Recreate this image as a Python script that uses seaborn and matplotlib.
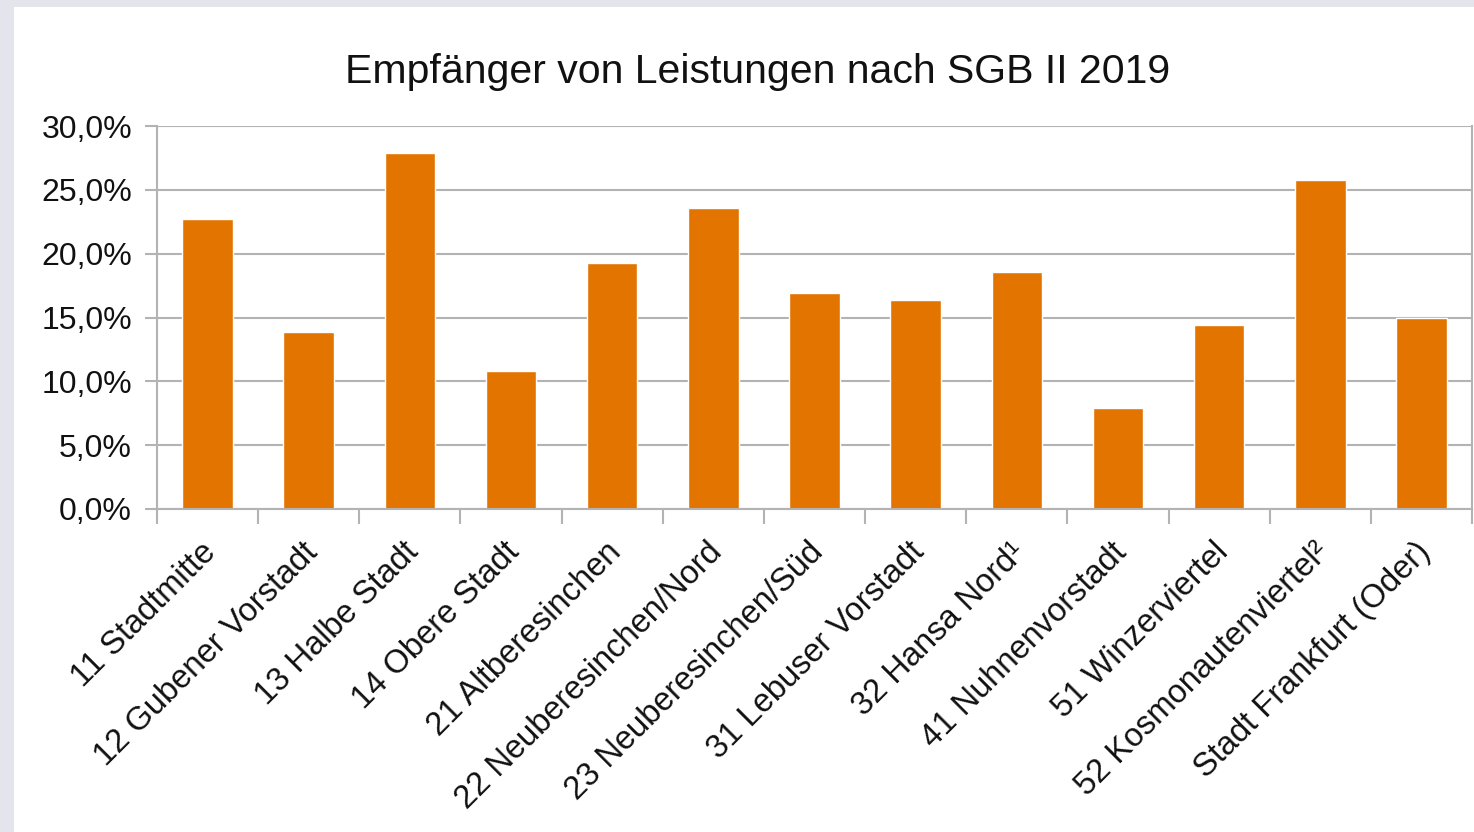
import matplotlib
matplotlib.use("Agg")
import matplotlib.pyplot as plt
import seaborn as sns
import numpy as np
import pandas as pd
from matplotlib.patches import Rectangle
from matplotlib.ticker import FuncFormatter, FixedLocator
from matplotlib.transforms import ScaledTranslation

# Chart data (percent of population receiving SGB II benefits)
DISTRICTS = [
    "11 Stadtmitte", "12 Gubener Vorstadt", "13 Halbe Stadt", "14 Obere Stadt",
    "21 Altberesinchen", "22 Neuberesinchen/Nord", "23 Neuberesinchen/Süd",
    "31 Lebuser Vorstadt", "32 Hansa Nord¹", "41 Nuhnenvorstadt",
    "51 Winzerviertel", "52 Kosmonautenviertel²", "Stadt Frankfurt (Oder)",
]
SHARE = [22.7, 13.9, 27.9, 10.8, 19.3, 23.6, 16.9, 16.4, 18.6, 7.9, 14.4, 25.8, 15.0]
Y_TICKS = [0, 5, 10, 15, 20, 25, 30]

df = pd.DataFrame({"district": DISTRICTS, "share": SHARE})

sns.set_style("white")
plt.rcParams["font.family"] = ["Liberation Sans", "DejaVu Sans"]

fig = plt.figure(figsize=(14.74, 8.32), dpi=100)
fig.patch.set_facecolor("white")
# gray frame strips on the left and top edges
fig.patches.append(Rectangle((0, 0), 14 / 1474, 1, transform=fig.transFigure,
                             facecolor="#e4e4ec", edgecolor="none"))
fig.patches.append(Rectangle((0, 1 - 7 / 832), 1, 7 / 832, transform=fig.transFigure,
                             facecolor="#e4e4ec", edgecolor="none"))

ax = fig.add_axes([157 / 1474, 1 - 509 / 832, 1315 / 1474, 383 / 832])
ax.set_facecolor("white")
sns.barplot(data=df, x="district", y="share", color="#e37400", width=0.5,
            saturation=1, ax=ax)

ax.set_xlim(-0.5, len(DISTRICTS) - 0.5)
ax.set_ylim(0, 30)
ax.set_yticks(Y_TICKS)
ax.yaxis.set_major_formatter(FuncFormatter(lambda v, _: f"{v:.1f}%".replace(".", ",")))
ax.yaxis.grid(True, color="#b3b3b3", linewidth=1.5)
ax.set_axisbelow(True)

ax.set_xticks(range(len(DISTRICTS)))
ax.set_xticklabels(DISTRICTS, rotation=45, ha="right", rotation_mode="anchor")
ax.xaxis.set_minor_locator(FixedLocator(np.arange(-0.5, len(DISTRICTS), 1)))
ax.tick_params(axis="x", which="major", length=0, pad=20, labelsize=23.5, labelcolor="#111111")
ax.tick_params(axis="x", which="minor", length=11, width=1.5, color="#b3b3b3",
               direction="out", bottom=True)
ax.tick_params(axis="y", length=9, width=1.5, color="#b3b3b3", labelsize=23,
               labelcolor="#111111", pad=9, left=True)

# nudge the rotated labels a little to the left
shift = ScaledTranslation(-7 / 100, 0, fig.dpi_scale_trans)
for lbl in ax.get_xticklabels():
    lbl.set_transform(lbl.get_transform() + shift)

for side in ["left", "bottom", "right"]:
    ax.spines[side].set_visible(True)
    ax.spines[side].set_color("#b3b3b3")
    ax.spines[side].set_linewidth(1.5)
ax.spines["top"].set_visible(False)

ax.set_xlabel("")
ax.set_ylabel("")
fig.text(0.514, 1 - 72 / 832, "Empfänger von Leistungen nach SGB II 2019",
         ha="center", va="center", fontsize=29.5, color="#111111")

fig.savefig("out.png", dpi=100)
